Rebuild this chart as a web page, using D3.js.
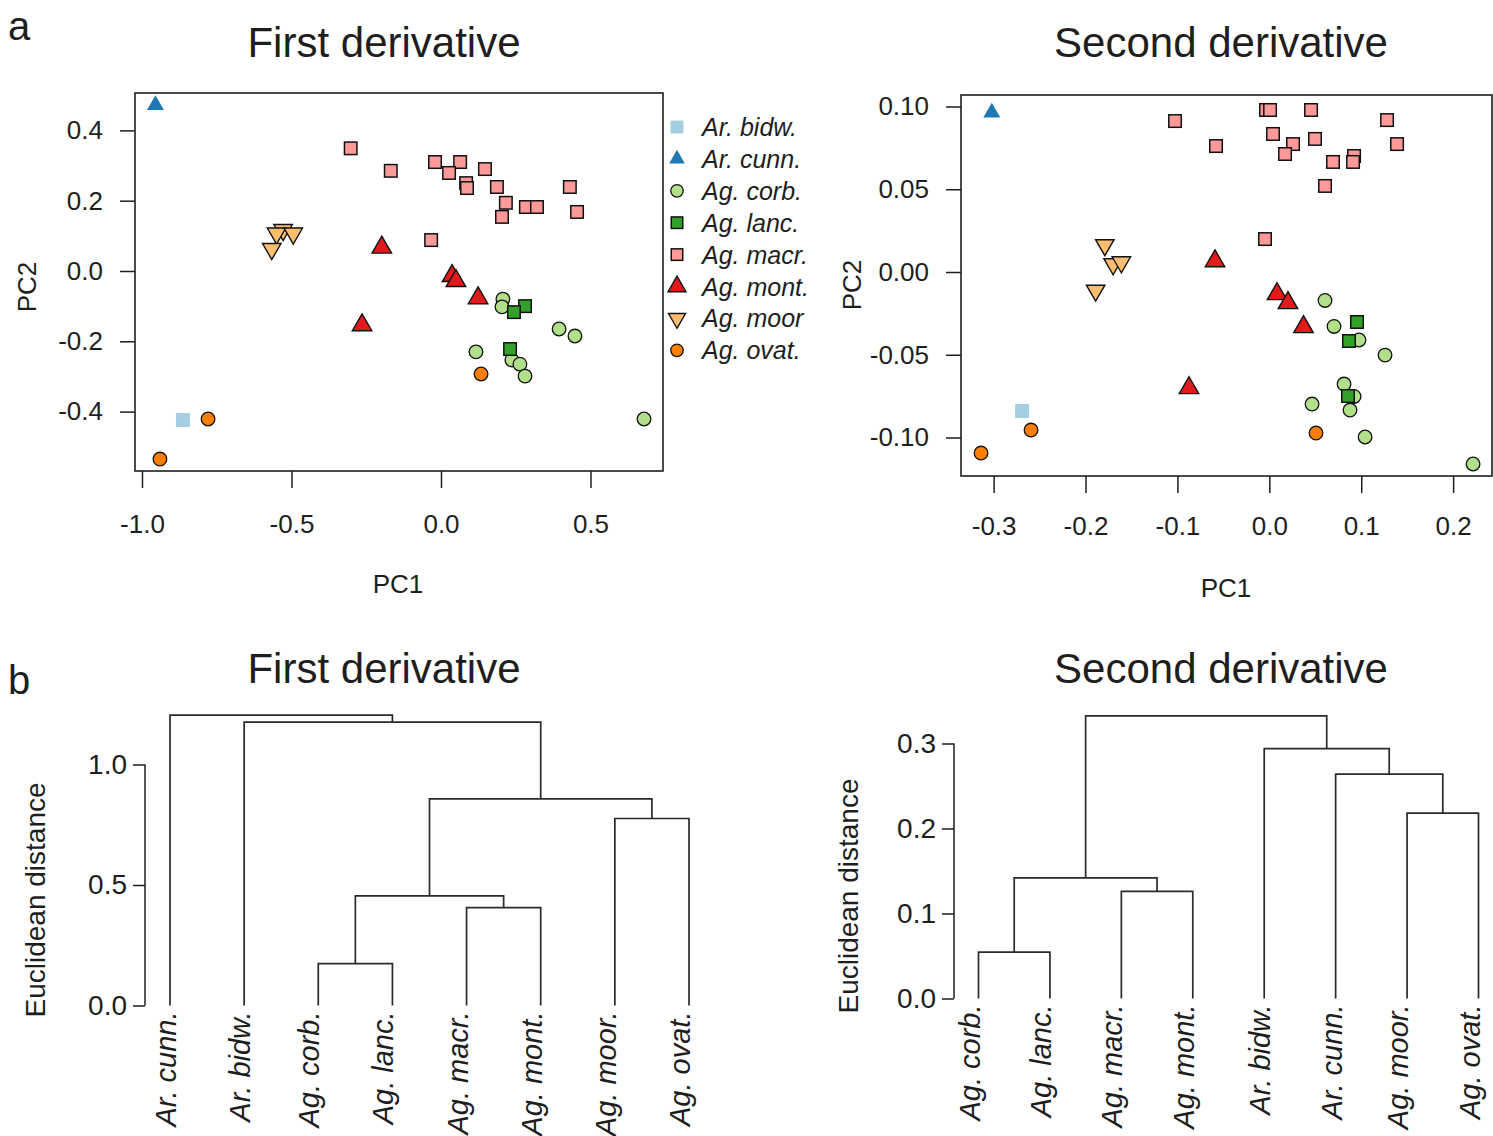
<!DOCTYPE html>
<html>
<head>
<meta charset="utf-8">
<script src="https://cdn.jsdelivr.net/npm/d3@7"></script>
<style>
  body { margin: 0; background: #fff; }
  svg { display: block; }
</style>
</head>
<body>
<svg id="fig" width="1493" height="1136"></svg>
<script>
// ---- species, colours and legend ----
const speciesNames = ["Ar. bidw.", "Ar. cunn.", "Ag. corb.", "Ag. lanc.", "Ag. macr.", "Ag. mont.", "Ag. moor", "Ag. ovat."];
const speciesColors = ["#a6cee3", "#1f78b4", "#b2df8a", "#33a02c", "#fb9a99", "#e31a1c", "#fdbf6f", "#ff7f00"];
const speciesShapes = ["square", "triangle", "circle-o", "square-o", "square-o", "triangle-o", "triangle-down-o", "circle-o"];

// ---- PCA scores, first derivative spectra: [species, PC1, PC2] ----
const firstScores = [
  ["Ar. bidw.", -0.863, -0.424],
  ["Ar. cunn.", -0.955, 0.472],
  ["Ag. corb.", 0.207, -0.080],
  ["Ag. corb.", 0.204, -0.102],
  ["Ag. corb.", 0.395, -0.165],
  ["Ag. corb.", 0.448, -0.185],
  ["Ag. corb.", 0.117, -0.230],
  ["Ag. corb.", 0.237, -0.253],
  ["Ag. corb.", 0.264, -0.265],
  ["Ag. corb.", 0.281, -0.299],
  ["Ag. corb.", 0.679, -0.421],
  ["Ag. lanc.", 0.281, -0.100],
  ["Ag. lanc.", 0.244, -0.117],
  ["Ag. lanc.", 0.231, -0.222],
  ["Ag. macr.", -0.302, 0.349],
  ["Ag. macr.", -0.168, 0.285],
  ["Ag. macr.", -0.020, 0.310],
  ["Ag. macr.", 0.064, 0.310],
  ["Ag. macr.", 0.027, 0.279],
  ["Ag. macr.", 0.084, 0.250],
  ["Ag. macr.", 0.087, 0.236],
  ["Ag. macr.", 0.147, 0.290],
  ["Ag. macr.", 0.187, 0.239],
  ["Ag. macr.", 0.217, 0.194],
  ["Ag. macr.", 0.204, 0.154],
  ["Ag. macr.", 0.284, 0.182],
  ["Ag. macr.", 0.321, 0.182],
  ["Ag. macr.", 0.431, 0.239],
  ["Ag. macr.", 0.455, 0.168],
  ["Ag. macr.", -0.033, 0.088],
  ["Ag. mont.", -0.198, 0.067],
  ["Ag. mont.", 0.037, -0.014],
  ["Ag. mont.", 0.050, -0.028],
  ["Ag. mont.", 0.124, -0.077],
  ["Ag. mont.", -0.264, -0.154],
  ["Ag. moor", -0.528, 0.117],
  ["Ag. moor", -0.550, 0.107],
  ["Ag. moor", -0.494, 0.107],
  ["Ag. moor", -0.566, 0.063],
  ["Ag. ovat.", -0.779, -0.421],
  ["Ag. ovat.", -0.940, -0.535],
  ["Ag. ovat.", 0.134, -0.293]
];

// ---- PCA scores, second derivative spectra: [species, PC1, PC2] ----
const secondScores = [
  ["Ar. bidw.", -0.269, -0.0840],
  ["Ar. cunn.", -0.302, 0.0963],
  ["Ag. corb.", 0.0606, -0.0172],
  ["Ag. corb.", 0.0704, -0.0329],
  ["Ag. corb.", 0.0976, -0.0411],
  ["Ag. corb.", 0.1259, -0.0502],
  ["Ag. corb.", 0.0813, -0.0677],
  ["Ag. corb.", 0.0922, -0.0752],
  ["Ag. corb.", 0.0878, -0.0834],
  ["Ag. corb.", 0.0465, -0.0798],
  ["Ag. corb.", 0.1042, -0.0997],
  ["Ag. corb.", 0.2217, -0.1160],
  ["Ag. lanc.", 0.0954, -0.0302],
  ["Ag. lanc.", 0.0867, -0.0417],
  ["Ag. lanc.", 0.0856, -0.0749],
  ["Ag. macr.", -0.1026, 0.0912],
  ["Ag. macr.", -0.0036, 0.0979],
  ["Ag. macr.", 0.0008, 0.0979],
  ["Ag. macr.", 0.0454, 0.0979],
  ["Ag. macr.", 0.1281, 0.0918],
  ["Ag. macr.", -0.0580, 0.0761],
  ["Ag. macr.", 0.0040, 0.0834],
  ["Ag. macr.", 0.0258, 0.0773],
  ["Ag. macr.", 0.0171, 0.0713],
  ["Ag. macr.", 0.0497, 0.0804],
  ["Ag. macr.", 0.0693, 0.0665],
  ["Ag. macr.", 0.0922, 0.0701],
  ["Ag. macr.", 0.0911, 0.0665],
  ["Ag. macr.", 0.1390, 0.0773],
  ["Ag. macr.", 0.0606, 0.0520],
  ["Ag. macr.", -0.0047, 0.0199],
  ["Ag. mont.", -0.0591, 0.0066],
  ["Ag. mont.", 0.0084, -0.0133],
  ["Ag. mont.", 0.0203, -0.0187],
  ["Ag. mont.", 0.0372, -0.0332],
  ["Ag. mont.", -0.0874, -0.0701],
  ["Ag. moor", -0.179, 0.0163],
  ["Ag. moor", -0.170, 0.0048],
  ["Ag. moor", -0.161, 0.0060],
  ["Ag. moor", -0.189, -0.0112],
  ["Ag. ovat.", -0.3137, -0.1094],
  ["Ag. ovat.", -0.2593, -0.0955],
  ["Ag. ovat.", 0.0508, -0.0973]
];

// ---- axis ticks ----
const firstPC1Ticks = [-1.0, -0.5, 0.0, 0.5];
const firstPC2Ticks = [-0.4, -0.2, 0.0, 0.2, 0.4];
const secondPC1Ticks = [-0.3, -0.2, -0.1, 0.0, 0.1, 0.2];
const secondPC2Ticks = [-0.10, -0.05, 0.00, 0.05, 0.10];

// ---- hierarchical clustering (hclust-style merge matrix: negative = leaf, positive = earlier merge) ----
const firstLeaves = ["Ar. cunn.", "Ar. bidw.", "Ag. corb.", "Ag. lanc.", "Ag. macr.", "Ag. mont.", "Ag. moor.", "Ag. ovat."];
const firstMerge = [[-3, -4], [-5, -6], [1, 2], [-7, -8], [3, 4], [-2, 5], [-1, 6]];
const firstHeights = [0.174, 0.406, 0.455, 0.776, 0.857, 1.176, 1.205];
const firstDistTicks = [0.0, 0.5, 1.0];

const secondLeaves = ["Ag. corb.", "Ag. lanc.", "Ag. macr.", "Ag. mont.", "Ar. bidw.", "Ar. cunn.", "Ag. moor.", "Ag. ovat."];
const secondMerge = [[-1, -2], [-3, -4], [1, 2], [-7, -8], [-6, 4], [-5, 5], [3, 6]];
const secondHeights = [0.0545, 0.126, 0.142, 0.218, 0.264, 0.294, 0.3324];
const secondDistTicks = [0.0, 0.1, 0.2, 0.3];

// ---- drawing ----
const FONT = '"Liberation Sans", Arial, Helvetica, sans-serif';
const INK = "#1e1e1e";
const svg = d3.select("#fig");
svg.append("rect").attr("width", 1493).attr("height", 1136).attr("fill", "#fff");

function addText(g, x, y, str, size, opts = {}) {
  const t = g.append("text")
    .attr("x", x).attr("y", y)
    .attr("font-family", FONT)
    .attr("font-size", size)
    .attr("fill", INK)
    .attr("text-anchor", opts.anchor || "middle")
    .text(str);
  if (opts.italic) t.attr("font-style", "italic");
  if (opts.rotate) t.attr("transform", `rotate(${opts.rotate},${x},${y})`);
  if (opts.dy) t.attr("dy", opts.dy);
  return t;
}

// one plotting symbol
function drawMarker(g, shape, color, cx, cy, scale = 1) {
  const stroke = "#111";
  if (shape === "square") {
    const s = 14 * scale;
    g.append("rect").attr("x", cx - s / 2).attr("y", cy - s / 2).attr("width", s).attr("height", s).attr("fill", color);
  } else if (shape === "square-o") {
    const s = 12.5 * scale;
    g.append("rect").attr("x", cx - s / 2).attr("y", cy - s / 2).attr("width", s).attr("height", s)
      .attr("fill", color).attr("stroke", stroke).attr("stroke-width", 1.5);
  } else if (shape === "circle-o") {
    g.append("circle").attr("cx", cx).attr("cy", cy).attr("r", 6.8 * scale)
      .attr("fill", color).attr("stroke", stroke).attr("stroke-width", 1.3);
  } else {
    const w = (shape === "triangle" ? 17 : shape === "triangle-o" ? 19.5 : 18.5) * scale;
    const area = Math.sqrt(3) / 4 * w * w;
    const p = g.append("path")
      .attr("d", d3.symbol(d3.symbolTriangle, area)())
      .attr("transform", `translate(${cx},${cy})` + (shape === "triangle-down-o" ? " rotate(180)" : ""))
      .attr("fill", color);
    if (shape !== "triangle") p.attr("stroke", stroke).attr("stroke-width", 1.4).attr("stroke-linejoin", "miter");
  }
}

function styleAxis(sel, size) {
  sel.attr("font-family", FONT).attr("font-size", size).attr("color", INK);
  sel.select(".domain").remove();
  sel.selectAll(".tick line").attr("stroke-width", 1.5);
}

function scatterPanel(cfg) {
  const g = svg.append("g");
  const x = d3.scaleLinear().domain(cfg.xDomain).range(cfg.xRange);
  const y = d3.scaleLinear().domain(cfg.yDomain).range(cfg.yRange);

  g.append("g").attr("transform", `translate(${cfg.xRange[0]},0)`)
    .call(d3.axisLeft(y).tickValues(cfg.yTicks).tickFormat(d => d.toFixed(cfg.yDigits)).tickSize(15).tickPadding(17))
    .call(s => styleAxis(s, 26));
  g.append("g").attr("transform", `translate(0,${cfg.yRange[0]})`)
    .call(d3.axisBottom(x).tickValues(cfg.xTicks).tickFormat(d => d.toFixed(1)).tickSize(17).tickPadding(cfg.xPad))
    .call(s => styleAxis(s, 26));

  // points, drawn species by species
  speciesNames.forEach((sp, i) => {
    cfg.data.filter(r => r[0] === sp).forEach(r => {
      drawMarker(g, speciesShapes[i], speciesColors[i], x(r[1]), y(r[2]));
    });
  });

  g.append("rect")
    .attr("x", cfg.xRange[0]).attr("y", cfg.yRange[1])
    .attr("width", cfg.xRange[1] - cfg.xRange[0]).attr("height", cfg.yRange[0] - cfg.yRange[1])
    .attr("fill", "none").attr("stroke", INK).attr("stroke-width", 1.6);

  addText(g, cfg.xLabelPos[0], cfg.xLabelPos[1], "PC1", 26);
  addText(g, cfg.yLabelPos[0], cfg.yLabelPos[1], "PC2", 26, { rotate: -90, dy: "0.36em" });
  addText(g, cfg.titlePos[0], cfg.titlePos[1], cfg.title, 42);
  return g;
}

scatterPanel({
  data: firstScores,
  xDomain: [-1.0234, 0.7425], xRange: [135, 663],
  yDomain: [-0.569, 0.5064], yRange: [471, 93],
  xTicks: firstPC1Ticks, yTicks: firstPC2Ticks, yDigits: 1, xPad: 27,
  xLabelPos: [398, 593], yLabelPos: [27, 287],
  titlePos: [384, 57], title: "First derivative"
});

scatterPanel({
  data: secondScores,
  xDomain: [-0.3355, 0.2423], xRange: [961, 1492],
  yDomain: [-0.12326, 0.10695], yRange: [476, 95],
  xTicks: secondPC1Ticks, yTicks: secondPC2Ticks, yDigits: 2, xPad: 24,
  xLabelPos: [1226, 597], yLabelPos: [852, 285],
  titlePos: [1221, 57], title: "Second derivative"
});

// legend beside the first score plot
const legend = svg.append("g");
speciesNames.forEach((sp, i) => {
  const ly = 127 + i * 31.9;
  drawMarker(legend, speciesShapes[i], speciesColors[i], 677, ly, 0.92);
  addText(legend, 702, ly, sp, 25, { anchor: "start", italic: true, dy: "0.36em" });
});

// dendrogram panel
function dendrogramPanel(cfg) {
  const g = svg.append("g");
  const x = d3.scalePoint().domain(cfg.leaves).range(cfg.xRange);
  const y = d3.scaleLinear().domain([0, 1]).range([cfg.y0, cfg.y0 - cfg.pxPerUnit]);

  const nodes = [];
  const pos = k => k < 0 ? { x: x(cfg.leaves[-k - 1]), h: 0 } : nodes[k - 1];
  const path = d3.path();
  cfg.merge.forEach(([a, b], i) => {
    const A = pos(a), B = pos(b), h = cfg.heights[i];
    path.moveTo(A.x, y(A.h));
    path.lineTo(A.x, y(h));
    path.lineTo(B.x, y(h));
    path.lineTo(B.x, y(B.h));
    nodes.push({ x: (A.x + B.x) / 2, h });
  });
  g.append("path").attr("d", path.toString()).attr("fill", "none")
    .attr("stroke", "#2a2a2a").attr("stroke-width", 1.7);

  // distance axis
  const ax = g.append("g").attr("transform", `translate(${cfg.axisX},0)`)
    .call(d3.axisLeft(y).tickValues(cfg.ticks).tickFormat(d => d.toFixed(1)).tickSize(12).tickPadding(6))
    .call(s => styleAxis(s, 28));
  const t = cfg.ticks;
  ax.append("line").attr("x1", 0).attr("x2", 0)
    .attr("y1", y(t[0])).attr("y2", y(t[t.length - 1]))
    .attr("stroke", INK).attr("stroke-width", 1.5);

  // leaf labels, reading upwards
  cfg.leaves.forEach(name => {
    const bx = x(name) + (/[gjpqy]/.test(name) ? 1 : 6);
    const by = cfg.y0 + 6;
    g.append("text")
      .attr("transform", `translate(${bx},${by}) rotate(-90)`)
      .attr("font-family", FONT).attr("font-size", 29).attr("font-style", "italic")
      .attr("fill", INK).attr("text-anchor", "end")
      .text(name);
  });

  addText(g, cfg.yLabelPos[0], cfg.yLabelPos[1], "Euclidean distance", 28, { rotate: -90, dy: "0.36em" });
  addText(g, cfg.titlePos[0], cfg.titlePos[1], cfg.title, 42);
}

dendrogramPanel({
  leaves: firstLeaves, merge: firstMerge, heights: firstHeights, ticks: firstDistTicks,
  xRange: [170, 689], y0: 1005.5, pxPerUnit: 241, axisX: 145,
  yLabelPos: [35, 900], titlePos: [384, 683], title: "First derivative"
});

dendrogramPanel({
  leaves: secondLeaves, merge: secondMerge, heights: secondHeights, ticks: secondDistTicks,
  xRange: [978.5, 1478.5], y0: 998.5, pxPerUnit: 850, axisX: 954,
  yLabelPos: [848, 896], titlePos: [1221, 683], title: "Second derivative"
});

// panel letters
addText(svg, 8, 40, "a", 40, { anchor: "start" });
addText(svg, 8, 694, "b", 40, { anchor: "start" });
</script>
</body>
</html>
